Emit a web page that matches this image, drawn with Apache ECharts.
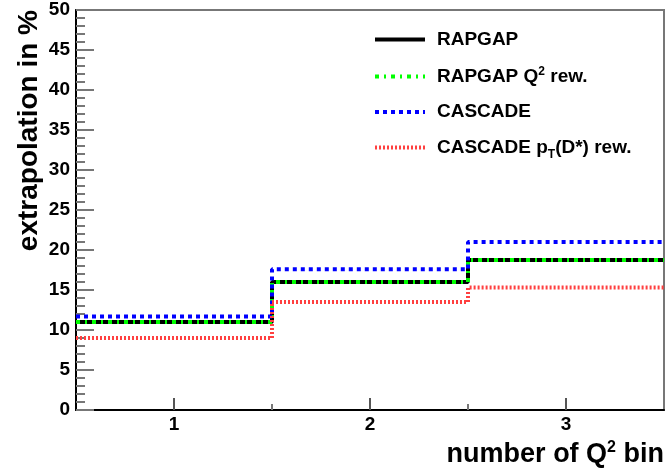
<!DOCTYPE html>
<html><head><meta charset="utf-8">
<script src="https://cdn.jsdelivr.net/npm/echarts@6/dist/echarts.min.js"></script>
<style>html,body{margin:0;padding:0;background:#fff}#c{width:667px;height:469px}</style>
</head><body><div id="c"></div>
<script>
var bins = [1, 2, 3];
var yTicks = [0, 5, 10, 15, 20, 25, 30, 35, 40, 45, 50];
var rapgap = [11.0, 16.0, 18.75];
var rapgapQ2 = [11.0, 16.0, 18.75];
var cascade = [11.7, 17.6, 21.0];
var cascadePt = [9.0, 13.5, 15.3];
var names = ['RAPGAP', 'RAPGAP Q{sup|2} rew.', 'CASCADE', 'CASCADE p{sub|T}(D*) rew.'];

function stepData(vals) {
  var d = [];
  for (var i = 0; i < bins.length; i++) d.push([bins[i] - 0.5, vals[i]]);
  d.push([bins[bins.length - 1] + 0.5, vals[vals.length - 1]]);
  return d;
}
var FONT = 'Liberation Sans, Arial, Helvetica, sans-serif';
var chart = echarts.init(document.getElementById('c'), null, {renderer: 'canvas'});
function mk(name, vals, color, type, z) {
  return {
    name: name, type: 'line', step: 'end', data: stepData(vals), symbol: 'none',
    xAxisIndex: 0, yAxisIndex: 0, z: z, animation: false,
    lineStyle: {color: color, width: 4, type: type, cap: 'butt'},
    itemStyle: {color: color}
  };
}
var richTxt = {
  sup: {fontSize: 12, fontWeight: 'bold', fontFamily: FONT, verticalAlign: 'top', padding: [0, 0, 10, 0], color: '#000'},
  sub: {fontSize: 12, fontWeight: 'bold', fontFamily: FONT, verticalAlign: 'bottom', padding: [14, 0, 0, 0], color: '#000'}
};
chart.setOption({
  animation: false,
  grid: {left: 76, right: 2, top: 10, bottom: 59, show: true, borderColor: '#777', borderWidth: 2, containLabel: false},
  xAxis: [{
    type: 'value', min: 0.5, max: 3.5, interval: 0.5,
    axisLine: {show: true, onZero: false, lineStyle: {color: '#000', width: 2}},
    axisTick: {show: true, inside: true, length: 12, customValues: bins, lineStyle: {color: '#555', width: 2}},
    axisLabel: {show: true, customValues: bins, margin: 5, color: '#000', fontSize: 19, fontWeight: 'bold', fontFamily: FONT},
    splitLine: {show: false},
    name: 'number of Q{sup|2} bin', nameLocation: 'end', nameGap: 0,
    nameTextStyle: {align: 'right', verticalAlign: 'top', padding: [30, 0, 0, 0], fontSize: 27, fontWeight: 'bold', fontFamily: FONT, color: '#000',
      rich: {sup: {fontSize: 16, fontWeight: 'bold', fontFamily: FONT, verticalAlign: 'top', padding: [0, 0, 14, 0], color: '#000'}}}
  }, {
    type: 'value', min: 0.5, max: 3.5, interval: 0.5, position: 'bottom', gridIndex: 0,
    axisLine: {show: false},
    axisTick: {show: true, inside: true, length: 6, customValues: [1.5, 2.5], lineStyle: {color: '#777', width: 2}},
    axisLabel: {show: false}, splitLine: {show: false}
  }],
  yAxis: {
    type: 'value', min: 0, max: 50, interval: 5,
    axisLine: {show: true, lineStyle: {color: '#000', width: 2}},
    axisTick: {show: true, inside: true, length: 18, lineStyle: {color: '#777', width: 2}},
    minorTick: {show: true, splitNumber: 5, length: 9, lineStyle: {color: '#777', width: 2}},
    axisLabel: {color: '#000', fontSize: 19, fontWeight: 'bold', fontFamily: FONT, margin: 6,
      customValues: yTicks},
    splitLine: {show: false}
  },
  legend: {
    orient: 'vertical', left: 373, top: 30, padding: 0, itemWidth: 50, itemHeight: 14, itemGap: 16.5,
    itemStyle: {opacity: 0},
    lineStyle: {width: 4},
    textStyle: {fontSize: 19, fontWeight: 'bold', fontFamily: FONT, color: '#000', padding: [0, 0, 0, 7], rich: richTxt},
    data: names.map(function (n) { return {name: n}; })
  },
  graphic: [{
    type: 'text', x: 29, y: 10, rotation: Math.PI / 2,
    style: {text: 'extrapolation in %', fontSize: 28, fontWeight: 'bold', fontFamily: FONT, fill: '#000', align: 'right', verticalAlign: 'middle'}
  }],
  series: [
    mk(names[0], rapgap, '#000000', 'solid', 2),
    mk(names[1], rapgapQ2, '#00ff00', [4, 5, 2, 5], 3),
    mk(names[2], cascade, '#0000ff', [4, 4], 4),
    mk(names[3], cascadePt, '#ff4040', [2, 2], 5)
  ]
});
</script></body></html>
